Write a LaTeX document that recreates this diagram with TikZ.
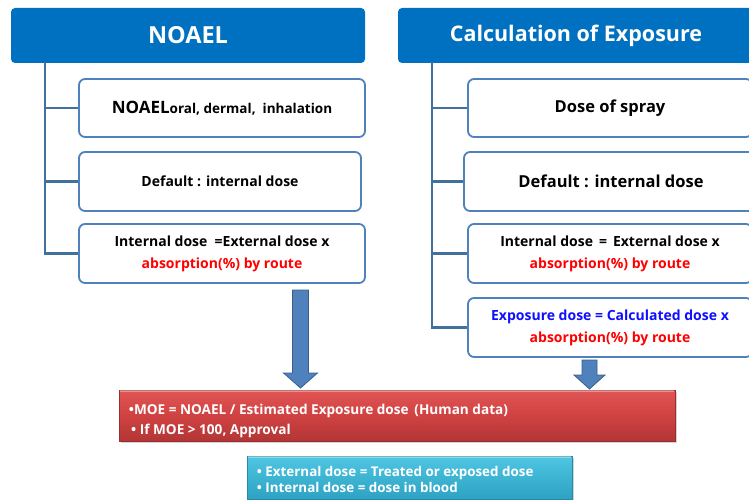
\documentclass[tikz,border=0pt]{standalone}
\usepackage{fontspec}
\setmainfont{Open Sans}
\usetikzlibrary{shadows}
\definecolor{hdr}{HTML}{0070C0}
\definecolor{bxline}{HTML}{4F81BD}
\definecolor{tree}{HTML}{41719C}
\definecolor{arrfill}{HTML}{4F81BD}
\definecolor{arrline}{HTML}{385D8A}
\definecolor{absred}{HTML}{FF0000}
\definecolor{expblue}{HTML}{1010FF}
\definecolor{redtop}{HTML}{E25555}
\definecolor{redmid}{HTML}{D04242}
\definecolor{redbot}{HTML}{B33535}
\definecolor{redline}{HTML}{9A2E2E}
\definecolor{cyantop}{HTML}{4FC6E4}
\definecolor{cyanbot}{HTML}{2DA2C2}
\definecolor{cyanline}{HTML}{2A8AA6}
\begin{document}
\begin{tikzpicture}[x=1pt,y=-1pt,
  header/.style={fill=hdr, rounded corners=4pt, text=white, inner sep=0pt,
    minimum height=55pt},
  box/.style={draw=bxline, line width=1.8pt, fill=white, rounded corners=6pt,
    align=center, inner sep=0pt, font=\bfseries},
  treeline/.style={draw=tree, line width=2.6pt},
  blockarrow/.style={fill=arrfill, draw=arrline, line width=0.8pt},
  big/.style={font=\bfseries\fontsize{16.5}{20}\selectfont},
  mid/.style={font=\bfseries\fontsize{14}{22}\selectfont},
  panel/.style={inner sep=0pt, line width=0.6pt,
    drop shadow={opacity=0.35, shadow xshift=2pt, shadow yshift=-2pt}},
  paneltext/.style={anchor=west, align=left, text=white, inner sep=0pt},
]
\useasboundingbox (0,0) rectangle (749,500);
\clip (0,0) rectangle (749,500);

% headers
\node[header, minimum width=354pt, font=\bfseries\fontsize{23.5}{26}\selectfont] (lh) at (188,35.5) {NOAEL};
\node[header, minimum width=356pt, font=\bfseries\fontsize{21.5}{26}\selectfont] (rh) at (576,35.5) {Calculation of Exposure};

% left boxes
\node[box, minimum width=286pt, minimum height=58pt] (lb1) at (222,108)
  {{\fontsize{17}{20}\selectfont NOAEL}{\fontsize{13.5}{16}\selectfont oral, dermal,\ \ inhalation}};
\node[box, mid, minimum width=282pt, minimum height=59pt] (lb2) at (220,181.5)
  {Default : internal dose};
\node[box, mid, minimum width=286pt, minimum height=59pt] (lb3) at (222,253.5)
  {Internal dose \ =External dose x\\\textcolor{absred}{absorption(\%) by route}};

% right boxes
\node[box, big, minimum width=284pt, minimum height=58pt] (rb1) at (610,108)
  {Dose of spray};
\node[box, big, minimum width=294pt, minimum height=59pt] (rb2) at (611,181.5)
  {Default : internal dose};
\node[box, mid, minimum width=284pt, minimum height=59pt] (rb3) at (610,253.5)
  {Internal dose \,=\, External dose x\\\textcolor{absred}{absorption(\%) by route}};
\node[box, mid, minimum width=284pt, minimum height=59pt] (rb4) at (610,327.5)
  {\textcolor{expblue}{Exposure dose = Calculated dose x}\\\textcolor{absred}{absorption(\%) by route}};

% tree lines
\coordinate (lt) at (45,62);
\coordinate (rt) at (432,62);
\draw[treeline] (lt) |- (lb3.west);
\draw[treeline] (lt |- lb1.west) -- (lb1.west);
\draw[treeline] (lt |- lb2.west) -- (lb2.west);
\draw[treeline] (rt) |- (rb4.west);
\draw[treeline] (rt |- rb1.west) -- (rb1.west);
\draw[treeline] (rt |- rb2.west) -- (rb2.west);
\draw[treeline] (rt |- rb3.west) -- (rb3.west);

% bottom panels
\node[panel, draw=redline, top color=redtop, bottom color=redbot, middle color=redmid,
  minimum width=556pt, minimum height=51pt] (moe) at (397,415.5) {};
\draw[white, opacity=0.35, line width=1.2pt] ([xshift=1pt,yshift=-1.2pt]moe.north west) -- ([xshift=-1pt,yshift=-1.2pt]moe.north east);
\node[paneltext, font=\bfseries\fontsize{13.6}{20}\selectfont] (moetxt) at ([xshift=10pt,yshift=-5pt]moe.west)
  {\textbullet MOE = NOAEL / Estimated Exposure dose \,(Human data)\\\,\textbullet\ If MOE > 100, Approval};

\node[panel, draw=cyanline, top color=cyantop, bottom color=cyanbot,
  minimum width=325pt, minimum height=43pt] (def) at (409.5,477.5) {};
\draw[white, opacity=0.35, line width=1.2pt] ([xshift=1pt,yshift=-1.2pt]def.north west) -- ([xshift=-1pt,yshift=-1.2pt]def.north east);
\node[paneltext, font=\bfseries\fontsize{13.4}{16}\selectfont] (deftxt) at ([xshift=10pt,yshift=-2pt]def.west)
  {\textbullet\ External dose = Treated or exposed dose\\\textbullet\ Internal dose = dose in blood};

% block arrows
\draw[blockarrow] (292.5,290) -- (308.5,290) -- (308.5,373) -- (317.5,373)
  -- (300.5,388) -- (283.5,373) -- (292.5,373) -- cycle;
\draw[blockarrow] (582,360) -- (597,360) -- (597,375) -- (605,375)
  -- (589.5,389) -- (574,375) -- (582,375) -- cycle;
\end{tikzpicture}
\end{document}
